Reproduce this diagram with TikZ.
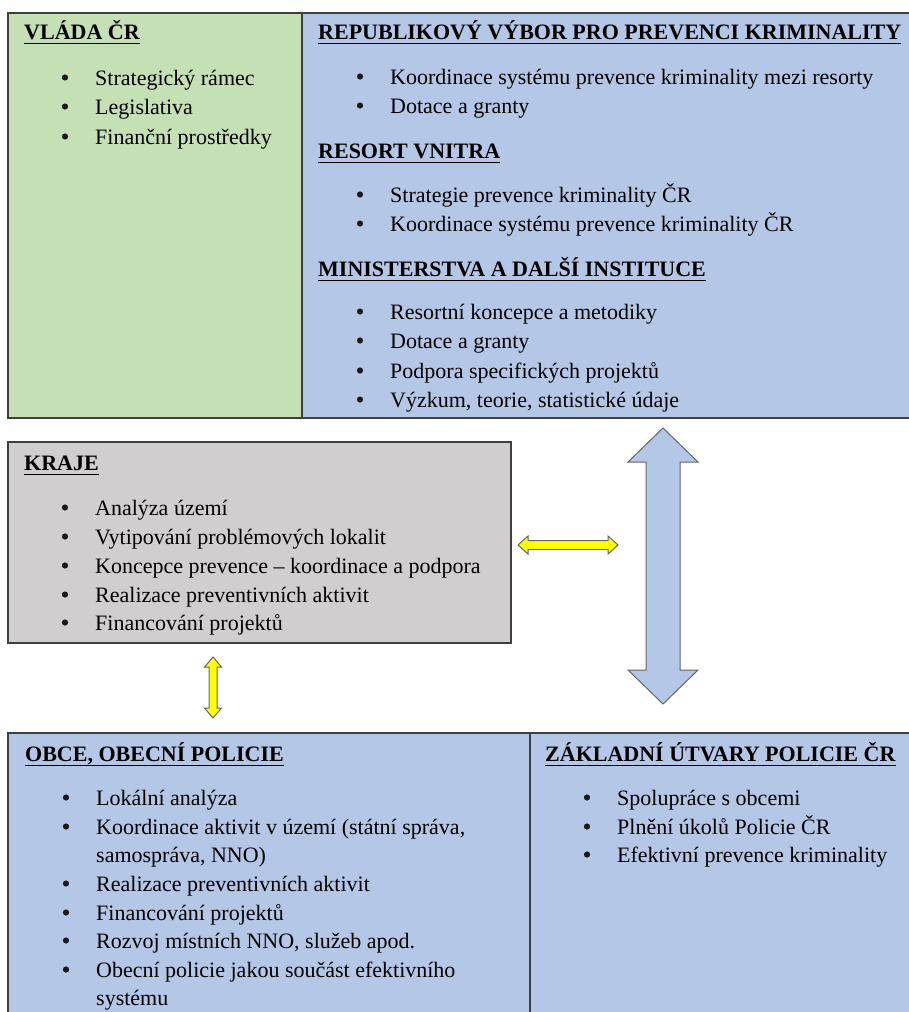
\documentclass[tikz,border=0pt]{standalone}
\usepackage{fontspec}
\setmainfont{Liberation Serif}
\definecolor{cgreen}{HTML}{C5E0B4}
\definecolor{cblue}{HTML}{B4C7E7}
\definecolor{cgray}{HTML}{D0CECE}
\definecolor{cedge}{HTML}{3F3F3F}
\definecolor{cyel}{HTML}{FFFF00}
\tikzset{
  panel/.style={draw=cedge, line width=1.5pt},
  txt/.style={anchor=base west, inner sep=0pt, font=\fontsize{22}{26}\selectfont},
  hd/.style={anchor=base west, inner sep=0pt, font=\fontsize{22}{26}\selectfont\bfseries},
  bul/.style={circle, fill=black!90, inner sep=0pt, minimum size=6.2pt},
  uline/.style={line width=1.6pt, black},
  blockarrow/.style={draw=cedge!80, line width=1pt, line join=miter},
}
\newcommand\itm[4]{%
  \node[bul] (#1b) at (#2-30,#3-7.5) {};
  \node[txt] (#1) at (#2,#3) {#4};}
\newcommand\hdg[4]{%
  \node[hd] (#1) at (#2,#3) {#4};
  \draw[uline] ([yshift=-4.5pt]#1.base west) -- ([yshift=-4.5pt]#1.base east);}
\begin{document}
\begin{tikzpicture}[x=1pt,y=-1pt]
\useasboundingbox (0,0) rectangle (909,1012);
\clip (0,0) rectangle (909,1012);
% top panels
\fill[cgreen] (8,13) rectangle (302,418);
\fill[cblue] (302,13) rectangle (915,418);
\draw[panel] (8,13) rectangle (915,418);
\draw[panel] (302,13) -- (302,418);
% kraje
\fill[cgray] (8,442) rectangle (511,643);
\draw[panel] (8,442) rectangle (511,643);
% bottom
\fill[cblue] (8,733) rectangle (915,1020);
\draw[panel] (8,733) rectangle (915,1020);
\draw[panel] (530,733) -- (530,1020);

% Vlada CR
\hdg{vl}{24}{39}{VLÁDA ČR}
\itm{vl1}{95}{85}{Strategický rámec}
\itm{vl2}{95}{114}{Legislativa}
\itm{vl3}{95}{144}{Finanční prostředky}

% Republikovy vybor
\hdg{rv}{318}{39}{REPUBLIKOVÝ VÝBOR PRO PREVENCI KRIMINALITY}
\itm{rv1}{390}{84}{Koordinace systému prevence kriminality mezi resorty}
\itm{rv2}{390}{113}{Dotace a granty}
\hdg{rs}{318}{158}{RESORT VNITRA}
\itm{rs1}{390}{202}{Strategie prevence kriminality ČR}
\itm{rs2}{390}{231}{Koordinace systému prevence kriminality ČR}
\hdg{mi}{318}{276}{MINISTERSTVA A DALŠÍ INSTITUCE}
\itm{mi1}{390}{319}{Resortní koncepce a metodiky}
\itm{mi2}{390}{348}{Dotace a granty}
\itm{mi3}{390}{378}{Podpora specifických projektů}
\itm{mi4}{390}{407}{Výzkum, teorie, statistické údaje}

% Kraje
\hdg{kr}{24}{470}{KRAJE}
\itm{kr1}{95}{515}{Analýza území}
\itm{kr2}{95}{544}{Vytipování problémových lokalit}
\itm{kr3}{95}{573}{Koncepce prevence – koordinace a podpora}
\itm{kr4}{95}{602}{Realizace preventivních aktivit}
\itm{kr5}{95}{630}{Financování projektů}

% Obce
\hdg{ob}{25}{761}{OBCE, OBECNÍ POLICIE}
\itm{ob1}{96}{805}{Lokální analýza}
\itm{ob2}{96}{834}{Koordinace aktivit v území (státní správa,}
\node[txt] (ob2c) at (96,862) {samospráva, NNO)};
\itm{ob3}{96}{891}{Realizace preventivních aktivit}
\itm{ob4}{96}{920}{Financování projektů}
\itm{ob5}{96}{948}{Rozvoj místních NNO, služeb apod.}
\itm{ob6}{96}{977}{Obecní policie jakou součást efektivního}
\node[txt] (ob6c) at (96,1005) {systému};

% Zakladni utvary
\hdg{zu}{545}{761}{ZÁKLADNÍ ÚTVARY POLICIE ČR}
\itm{zu1}{617}{805}{Spolupráce s obcemi}
\itm{zu2}{617}{834}{Plnění úkolů Policie ČR}
\itm{zu3}{617}{862}{Efektivní prevence kriminality}

% big vertical arrow
\draw[blockarrow, fill=cblue] (663,428) -- (698,462) -- (680,462) -- (680,670) -- (698,670)
  -- (663,704) -- (628,670) -- (646,670) -- (646,462) -- (628,462) -- cycle;
% yellow horizontal arrow
\draw[blockarrow, fill=cyel] (518,545) -- (528,536) -- (528,540.5) -- (608,540.5) -- (608,536)
  -- (618,545) -- (608,554) -- (608,549.5) -- (528,549.5) -- (528,554) -- cycle;
% yellow vertical arrow
\draw[blockarrow, fill=cyel] (213,657) -- (221.5,667) -- (217,667) -- (217,708) -- (221.5,708)
  -- (213,718) -- (204.5,708) -- (209,708) -- (209,667) -- (204.5,667) -- cycle;
\end{tikzpicture}
\end{document}
